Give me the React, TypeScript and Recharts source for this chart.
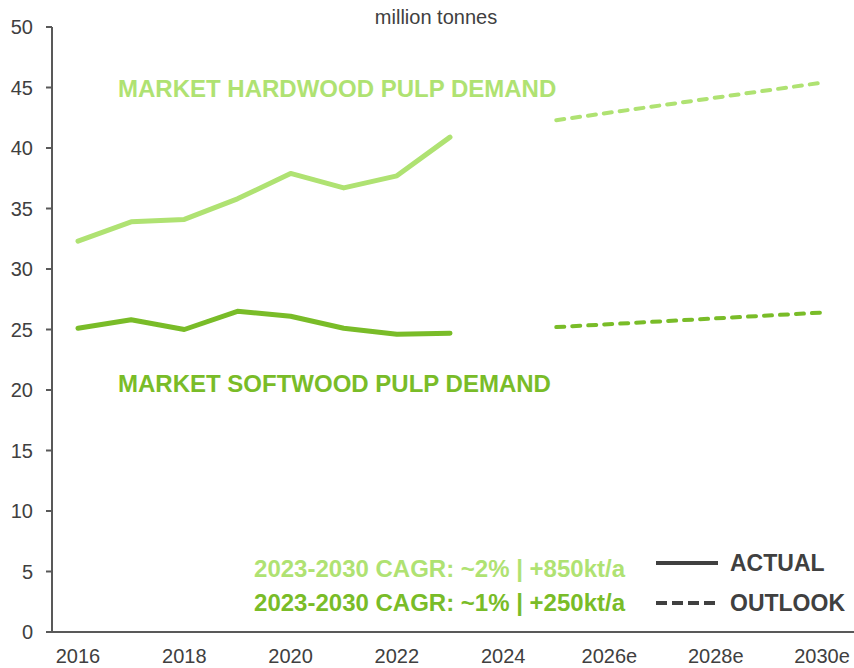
import React from 'react';
import { LineChart, Line, XAxis, YAxis, Customized } from 'recharts';

const years = ['2016', '2017', '2018', '2019', '2020', '2021', '2022', '2023', '2024', '2025e', '2026e', '2027e', '2028e', '2029e', '2030e'];
const hardwoodActual: (number | null)[] = [32.3, 33.9, 34.1, 35.8, 37.9, 36.7, 37.7, 40.9, null, null, null, null, null, null, null];
const softwoodActual: (number | null)[] = [25.1, 25.8, 25.0, 26.5, 26.1, 25.1, 24.6, 24.7, null, null, null, null, null, null, null];
const hardwoodOutlook: (number | null)[] = [null, null, null, null, null, null, null, null, null, 42.3, null, null, null, null, 45.4];
const softwoodOutlook: (number | null)[] = [null, null, null, null, null, null, null, null, null, 25.2, null, null, null, null, 26.4];
const yTicks = [0, 5, 10, 15, 20, 25, 30, 35, 40, 45, 50];

const unitLabel = 'million tonnes';
const hardwoodLabel = 'MARKET HARDWOOD PULP DEMAND';
const softwoodLabel = 'MARKET SOFTWOOD PULP DEMAND';
const hardwoodCagr = '2023-2030 CAGR: ~2% | +850kt/a';
const softwoodCagr = '2023-2030 CAGR: ~1% | +250kt/a';
const legendActual = 'ACTUAL';
const legendOutlook = 'OUTLOOK';

const HW = '#AFE272';
const SW = '#79BC28';
const AXIS = '#595959';
const TEXT = '#404040';

const data = years.map((year, i) => ({
  year,
  hwActual: hardwoodActual[i],
  swActual: softwoodActual[i],
  hwOutlook: hardwoodOutlook[i],
  swOutlook: softwoodOutlook[i],
}));

const Annotations = () => (
  <g fontFamily="'Liberation Sans', Arial, sans-serif">
    <text x={436} y={24} textAnchor="middle" fontSize={20} fill={TEXT}>{unitLabel}</text>
    <text x={118} y={97} fontSize={24} fontWeight="bold" fill={HW}>{hardwoodLabel}</text>
    <text x={118} y={392} fontSize={24} fontWeight="bold" fill={SW}>{softwoodLabel}</text>
    <text x={625} y={577} textAnchor="end" fontSize={24} fontWeight="bold" fill={HW}>{hardwoodCagr}</text>
    <text x={625} y={611} textAnchor="end" fontSize={24} fontWeight="bold" fill={SW}>{softwoodCagr}</text>
    <line x1={656} x2={718} y1={563} y2={563} stroke={TEXT} strokeWidth={4} />
    <line x1={656} x2={718} y1={603} y2={603} stroke={TEXT} strokeWidth={4} strokeDasharray="11 5" />
    <text x={730} y={571} fontSize={23} fontWeight="bold" fill={TEXT}>{legendActual}</text>
    <text x={730} y={611} fontSize={23} fontWeight="bold" fill={TEXT}>{legendOutlook}</text>
  </g>
);

export default function App() {
  return (
    <div style={{ position: 'absolute', left: 0, top: 0, width: 854, height: 668, background: '#fff', fontFamily: "'Liberation Sans', Arial, sans-serif" }}>
      <LineChart width={854} height={668} data={data} margin={{ top: 27, right: 0, bottom: 0, left: 0 }}>
        <XAxis
          dataKey="year"
          interval={1}
          tickLine={false}
          axisLine={{ stroke: AXIS, strokeWidth: 2 }}
          height={36}
          tick={{ fill: TEXT, fontSize: 20 }}
          tickSize={6}
          tickMargin={11}
          padding={{ left: 26, right: 32 }}
        />
        <YAxis
          domain={[0, 50]}
          ticks={yTicks}
          width={52}
          axisLine={{ stroke: AXIS, strokeWidth: 2 }}
          tickLine={{ stroke: AXIS, strokeWidth: 2 }}
          tick={{ fill: TEXT, fontSize: 20 }}
          tickSize={6}
          tickMargin={13}
          allowDataOverflow
        />
        <Line type="linear" dataKey="hwActual" stroke={HW} strokeWidth={5} dot={false} activeDot={false} strokeLinecap="round" strokeLinejoin="round" isAnimationActive={false} />
        <Line type="linear" dataKey="swActual" stroke={SW} strokeWidth={5} dot={false} activeDot={false} strokeLinecap="round" strokeLinejoin="round" isAnimationActive={false} />
        <Line type="linear" dataKey="hwOutlook" stroke={HW} strokeWidth={4} strokeDasharray="8 8" strokeLinecap="round" connectNulls dot={false} activeDot={false} isAnimationActive={false} />
        <Line type="linear" dataKey="swOutlook" stroke={SW} strokeWidth={4} strokeDasharray="8 8" strokeLinecap="round" connectNulls dot={false} activeDot={false} isAnimationActive={false} />
        <Customized component={Annotations} />
      </LineChart>
    </div>
  );
}
